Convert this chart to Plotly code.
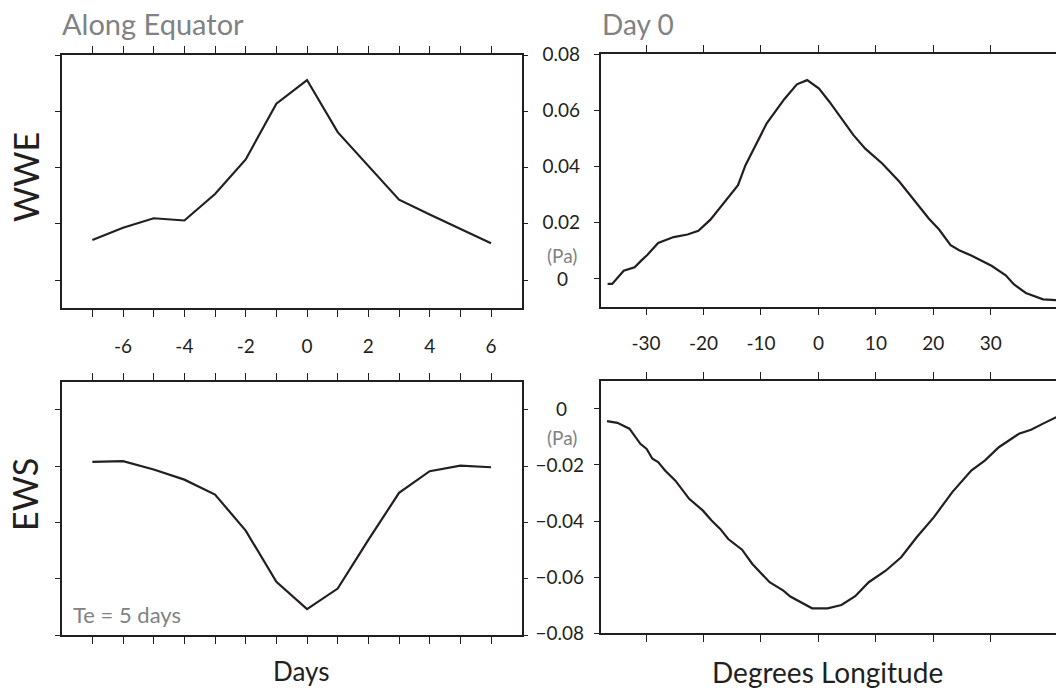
import plotly.graph_objects as go

# ---------------- data ----------------
days = [-7, -6, -5, -4, -3, -2, -1, 0, 1, 2, 3, 4, 5, 6]
wwe_days = [0.0143, 0.0186, 0.0220, 0.0212, 0.0306, 0.0429, 0.0627, 0.0711,
            0.0526, 0.0405, 0.0286, 0.0233, 0.0182, 0.0131]
ews_days = [-0.0185, -0.0182, -0.0212, -0.0248, -0.0301, -0.0429, -0.0611, -0.0708,
            -0.0635, -0.0462, -0.0295, -0.0218, -0.0198, -0.0204]

lon_wwe = [-36.7, -35.9, -33.9, -32.0, -30.8, -29.8, -27.9, -25.2, -22.8, -20.9,
           -18.8, -16.7, -14.0, -12.7, -10.7, -9.0, -5.95, -3.75, -1.96, 0.1,
           1.9, 4.0, 6.1, 8.15, 11.1, 14.1, 16.5, 19.2, 21.0, 23.0,
           24.5, 26.6, 30.2, 32.6, 34.0, 36.1, 39.1, 41.4]
wwe_lon = [-0.0019, -0.0019, 0.0028, 0.0040, 0.0065, 0.0084, 0.0127, 0.0148, 0.0157, 0.0170,
           0.0210, 0.0263, 0.0333, 0.0404, 0.0487, 0.0553, 0.0639, 0.0692, 0.0707, 0.0677,
           0.0630, 0.0570, 0.0511, 0.0463, 0.0410, 0.0345, 0.0282, 0.0214, 0.0175, 0.0119,
           0.0101, 0.0082, 0.0045, 0.0012, -0.0020, -0.0051, -0.0074, -0.0077]

lon_ews = [-36.8, -35.0, -32.9, -31.0, -29.9, -28.9, -27.9, -26.7, -24.9, -22.5,
           -20.1, -18.6, -17.1, -15.7, -13.3, -11.5, -8.5, -6.1, -4.9, -3.2,
           -1.1, 1.6, 4.0, 6.4, 8.75, 11.7, 14.4, 17.1, 20.1, 23.3,
           26.6, 29.0, 31.4, 34.9, 37.0, 39.1, 41.4]
ews_lon = [-0.0044, -0.0050, -0.0071, -0.0125, -0.0143, -0.0178, -0.0190, -0.0220, -0.0256, -0.0321,
           -0.0363, -0.0398, -0.0428, -0.0464, -0.0502, -0.0553, -0.0618, -0.0648, -0.0669, -0.0689,
           -0.0711, -0.0711, -0.0699, -0.0668, -0.0618, -0.0577, -0.0529, -0.0458, -0.0386, -0.0297,
           -0.0220, -0.0184, -0.0137, -0.0089, -0.0075, -0.0053, -0.0030]

day_ticks = list(range(-7, 7))
day_labels = ["", "-6", "", "-4", "", "-2", "", "0", "", "2", "", "4", "", "6"]
lon_ticks = [-30, -20, -10, 0, 10, 20, 30]
lon_labels = ["-30", "-20", "-10", "0", "10", "20", "30"]
top_yticks = [0, 0.02, 0.04, 0.06, 0.08]
top_ylabels = ["", "0.02", "0.04", "0.06", "0.08"]
bot_yticks = [0, -0.02, -0.04, -0.06, -0.08]
bot_ylabels = ["", "\u22120.02", "\u22120.04", "\u22120.06", "\u22120.08"]

# ---------------- style ----------------
W, H = 1056, 688
BLACK = "#231f20"
GRAY = "#808285"
FONT = "Lato"

def px_x(p):
    return p / W

def px_y(p):
    return 1 - p / H

fig = go.Figure()
line_style = dict(color=BLACK, width=2.2)
fig.add_trace(go.Scatter(x=days, y=wwe_days, mode="lines", line=line_style, xaxis="x", yaxis="y"))
fig.add_trace(go.Scatter(x=lon_wwe, y=wwe_lon, mode="lines", line=line_style, xaxis="x2", yaxis="y2"))
fig.add_trace(go.Scatter(x=days, y=ews_days, mode="lines", line=line_style, xaxis="x3", yaxis="y3"))
fig.add_trace(go.Scatter(x=lon_ews, y=ews_lon, mode="lines", line=line_style, xaxis="x4", yaxis="y4"))

common = dict(showgrid=False, zeroline=False, showline=True, linecolor=BLACK, linewidth=1.5,
              ticks="outside", tickcolor=BLACK, tickwidth=1.2, fixedrange=True,
              automargin=False,
              tickfont=dict(family=FONT, size=19, color=BLACK))

xl = [px_x(61.7), px_x(521.7)]
xr = [px_x(600.7), 1.0]

fig.update_layout(
    template="none",
    width=W, height=H,
    margin=dict(l=0, r=0, t=0, b=0, pad=0, autoexpand=False),
    paper_bgcolor="white", plot_bgcolor="white",
    showlegend=False,
    font=dict(family=FONT, color=BLACK),
    xaxis=dict(common, domain=xl, range=[-8, 7], anchor="y", tickmode="array",
               tickvals=day_ticks, ticktext=day_labels, ticklen=7, mirror="ticks",
               ticklabelstandoff=13),
    yaxis=dict(common, domain=[px_y(308.3), px_y(55)], range=[-0.01, 0.08], anchor="x",
               tickmode="array", tickvals=top_yticks, showticklabels=False, ticklen=5,
               mirror="ticks"),
    xaxis2=dict(common, domain=xr, range=[-37.9, 41.35], anchor="y2", tickmode="array",
                tickvals=lon_ticks, ticktext=lon_labels, ticklen=7, mirror="ticks",
                ticklabelstandoff=12),
    yaxis2=dict(common, domain=[px_y(306.7), px_y(54)], range=[-0.01, 0.08], anchor="x2",
                tickmode="array", tickvals=top_yticks, ticktext=top_ylabels, ticklen=5,
                ticklabelstandoff=10),
    xaxis3=dict(common, domain=xl, range=[-8, 7], anchor="y3", tickmode="array",
                tickvals=day_ticks, showticklabels=False, ticklen=7, mirror="ticks"),
    yaxis3=dict(common, domain=[px_y(635), px_y(381.7)], range=[-0.08, 0.01], anchor="x3",
                tickmode="array", tickvals=bot_yticks, showticklabels=False, ticklen=5,
                mirror="ticks"),
    xaxis4=dict(common, domain=xr, range=[-37.9, 41.35], anchor="y4", tickmode="array",
                tickvals=lon_ticks, showticklabels=False, ticklen=7, mirror="ticks"),
    yaxis4=dict(common, domain=[px_y(633.3), px_y(380.7)], range=[-0.08, 0.01], anchor="x4",
                tickmode="array", tickvals=bot_yticks, ticktext=bot_ylabels, ticklen=5,
                ticklabelstandoff=6),
)

ann = []
def add(text, x, y, size, color=BLACK, xanchor="center", yanchor="middle", angle=0,
        xref="paper", yref="paper"):
    ann.append(dict(text=text, x=x, y=y, xref=xref, yref=yref, showarrow=False,
                    xanchor=xanchor, yanchor=yanchor, textangle=angle,
                    font=dict(family=FONT, size=size, color=color)))

add("Along Equator", px_x(60), px_y(24), 29, GRAY, xanchor="left")
add("Day 0", px_x(600), px_y(24), 28, GRAY, xanchor="left")
add("WWE", px_x(25), px_y(177), 34, angle=-90)
add("EWS", px_x(25), px_y(495), 34, angle=-90)
add("Days", px_x(301), px_y(671), 26)
add("Degrees Longitude", px_x(827), px_y(672), 28)
add("Te = 5 days", px_x(71), px_y(614), 22, GRAY, xanchor="left")
add("(Pa)", px_x(562), px_y(255), 19, GRAY)
add("(Pa)", px_x(562), px_y(437), 19, GRAY)
add("0", px_x(562), 0, 19, xref="paper", yref="y2")
add("0", px_x(561), 0, 19, xref="paper", yref="y4")
fig.update_layout(annotations=ann)

fig.write_html(
    "out.html",
    config={"displayModeBar": False},
    post_script=(
        "document.documentElement.style.margin='0';"
        "document.documentElement.style.padding='0';"
        "document.documentElement.style.overflow='hidden';"
        "document.body.style.margin='0';"
        "document.body.style.padding='0';"
        "document.body.style.overflow='hidden';"
    ),
)
